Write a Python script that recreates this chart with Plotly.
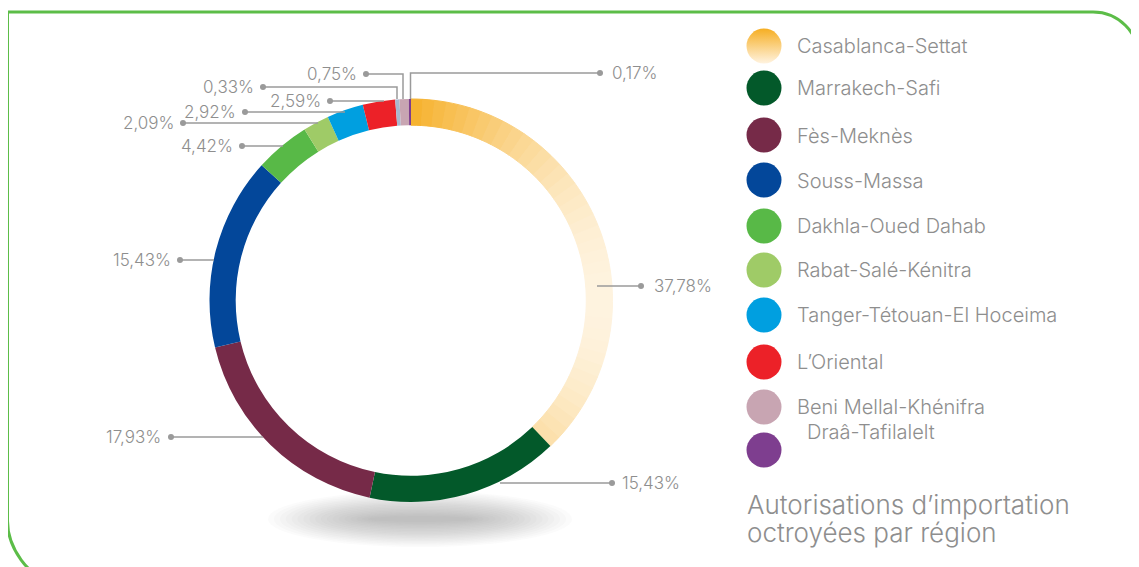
import plotly.graph_objects as go
import math

# ---------------- data ----------------
regions = ["Casablanca-Settat", "Marrakech-Safi", "Fès-Meknès", "Souss-Massa",
           "Dakhla-Oued Dahab", "Rabat-Salé-Kénitra", "Tanger-Tétouan-El Hoceima",
           "L’Oriental", "Autre", "Beni Mellal-Khénifra", "Draâ-Tafilalelt"]
shares = [37.78, 15.43, 17.93, 15.43, 4.42, 2.09, 2.92, 2.59, 0.33, 0.75, 0.17]
colors = ["#F6B12C", "#03592A", "#762A48", "#03479A", "#58B947", "#9FCB67",
          "#009FE0", "#EC2128", "#A9B7CE", "#C8A5B2", "#7E3E8F"]
legend_names = ["Casablanca-Settat", "Marrakech-Safi", "Fès-Meknès", "Souss-Massa",
                "Dakhla-Oued Dahab", "Rabat-Salé-Kénitra", "Tanger-Tétouan-El Hoceima",
                "L’Oriental", "Beni Mellal-Khénifra", "Draâ-Tafilalelt"]
legend_colors = ["#F6B12C", "#03592A", "#762A48", "#03479A", "#58B947", "#9FCB67",
                 "#009FE0", "#EC2128", "#C8A5B2", "#7E3E8F"]
title_lines = ["Autorisations d’importation", "octroyées par région"]

W, H = 1139, 567
OFF = 8  # page body margin: decorations are expressed in page pixels
GREY = "#8e8e8e"
FONT = "Inter"

# ---------------- layout helpers ----------------
CX, CY, R = 411.0, 300.5, 201.5
HOLE = 0.87

def hex2rgb(h):
    h = h.lstrip("#")
    return tuple(int(h[i:i + 2], 16) for i in (0, 2, 4))

def mix(c1, c2, t):
    a, b = hex2rgb(c1), hex2rgb(c2)
    return "#%02x%02x%02x" % tuple(int(round(a[i] + (b[i] - a[i]) * t)) for i in range(3))

# Casablanca slice rendered with a horizontal gradient (split into thin pieces of the same value)
N_GRAD = 40
total = sum(shares)
cas_angle = shares[0] / total * 2 * math.pi
pie_labels, pie_values, pie_colors, pie_hover, pie_lw = [], [], [], [], []
for i in range(N_GRAD):
    mid = (i + 0.5) / N_GRAD * cas_angle
    t = max(0.0, min(1.0, math.sin(mid)))
    c = mix("#F6B12C", "#FEF3DF", t)
    pie_labels.append(f"{regions[0]} #{i}")
    pie_values.append(shares[0] / N_GRAD)
    pie_colors.append(c)
    pie_hover.append(f"{regions[0]}: {shares[0]:.2f}%")
    pie_lw.append(1)
for name, v, c in zip(regions[1:], shares[1:], colors[1:]):
    pie_labels.append(name)
    pie_values.append(v)
    pie_colors.append(c)
    pie_hover.append(f"{name}: {v:.2f}%")
    pie_lw.append(0)

fig = go.Figure()

fig.update_layout(
    width=W, height=H, margin=dict(l=0, r=0, t=0, b=0),
    paper_bgcolor="white", plot_bgcolor="white", showlegend=False,
    xaxis=dict(range=[OFF, W + OFF], visible=False, fixedrange=True, domain=[0, 1]),
    yaxis=dict(range=[H + OFF, OFF], visible=False, fixedrange=True, domain=[0, 1]),
)

pcx, pcy = CX - OFF, CY - OFF
fig.add_trace(go.Pie(
    labels=pie_labels, values=pie_values, sort=False, direction="clockwise", rotation=0,
    hole=HOLE, textinfo="none", hovertext=pie_hover, hoverinfo="text",
    marker=dict(colors=pie_colors, line=dict(color=pie_colors, width=pie_lw)),
    domain=dict(x=[(pcx - R) / W, (pcx + R) / W], y=[(H - pcy - R) / H, (H - pcy + R) / H]),
))

shapes = []
# soft shadow under the ring
NS = 18
for k in range(NS):
    f = k / (NS - 1)
    rx, ry = 152 - 100 * f, 28 - 25 * f
    shapes.append(dict(type="circle", xref="x", yref="y", layer="below",
                       x0=420 - rx, x1=420 + rx, y0=519 - ry, y1=519 + ry,
                       fillcolor="rgba(120,110,110,0.029)", line=dict(width=0)))

# green frame
frame = ("M 54,580 C 28.6,580 7.5,546.4 7.5,521 V 12 H 1093 "
         "C 1118.4,12 1139,32.6 1139,58 V 80")
shapes.append(dict(type="path", xref="x", yref="y", path=frame,
                   line=dict(color="#5CBD48", width=3)))

# leader lines: (slice index, path, dot x, dot y, text x, anchor)
leaders = [
    (10, "M 410.5,99 V 73 H 600", 600, 73, 610, "left"),
    (9, "M 403,99 V 74 H 366", 366, 74, 359, "right"),
    (8, "M 397,99 V 87 H 263", 263, 87, 256, "right"),
    (7, "M 384,101 H 330", 330, 101, 323, "right"),
    (6, "M 345,112 H 245", 245, 112, 238, "right"),
    (5, "M 318,123 H 183", 183, 123, 176, "right"),
    (4, "M 283,146 H 242", 242, 146, 235, "right"),
    (3, "M 214,260 H 180", 180, 260, 173, "right"),
    (2, "M 263,437 H 171", 171, 437, 163, "right"),
    (1, "M 500,483 H 612", 612, 483, 620, "left"),
    (0, "M 597,286 H 641", 641, 286, 652, "left"),
]
annotations = []
for idx, path, dx, dy, tx, anc in leaders:
    shapes.append(dict(type="path", xref="x", yref="y", path=path,
                       line=dict(color="#9a9a9a", width=1.5)))
    shapes.append(dict(type="circle", xref="x", yref="y", x0=dx - 3, x1=dx + 3,
                       y0=dy - 3, y1=dy + 3, fillcolor="#9a9a9a", line=dict(width=0)))
    annotations.append(dict(x=tx, y=dy, xref="x", yref="y", xanchor=anc, yanchor="middle",
                            text=f"{shares[idx]:.2f}".replace(".", ",") + "%",
                            showarrow=False,
                            font=dict(family=FONT, size=17, color=GREY, weight=300)))

# legend
leg_cx = 764
leg_cy = [46, 88, 135, 180, 226, 270, 315, 362, 407, 450]
leg_ty = [46, 88, 136, 181, 226, 270, 315, 362, 407, 432]
leg_tx = [795, 795, 795, 795, 795, 795, 795, 795, 795, 805]
fig.add_trace(go.Scatter(
    x=[leg_cx], y=[leg_cy[0]], mode="markers", hoverinfo="skip",
    marker=dict(size=35, color="#F6AE22", line=dict(width=0),
                gradient=dict(type="vertical", color="#FFF3E0")),
))
fig.add_trace(go.Scatter(
    x=[leg_cx] * (len(legend_names) - 1), y=leg_cy[1:], mode="markers",
    hovertext=legend_names[1:], hoverinfo="text",
    marker=dict(size=35, color=legend_colors[1:], line=dict(width=0)),
))
for name, ty, tx in zip(legend_names, leg_ty, leg_tx):
    annotations.append(dict(x=tx, y=ty, xref="x", yref="y", xanchor="left", yanchor="middle",
                            text=name, showarrow=False,
                            font=dict(family=FONT, size=20, color=GREY, weight=300)))

for line, ty in zip(title_lines, [504, 532]):
    annotations.append(dict(x=745, y=ty, xref="x", yref="y", xanchor="left", yanchor="middle",
                            text=line, showarrow=False,
                            font=dict(family=FONT, size=26, color=GREY, weight=300)))

fig.update_layout(shapes=shapes, annotations=annotations)
fig.write_html("out.html")
